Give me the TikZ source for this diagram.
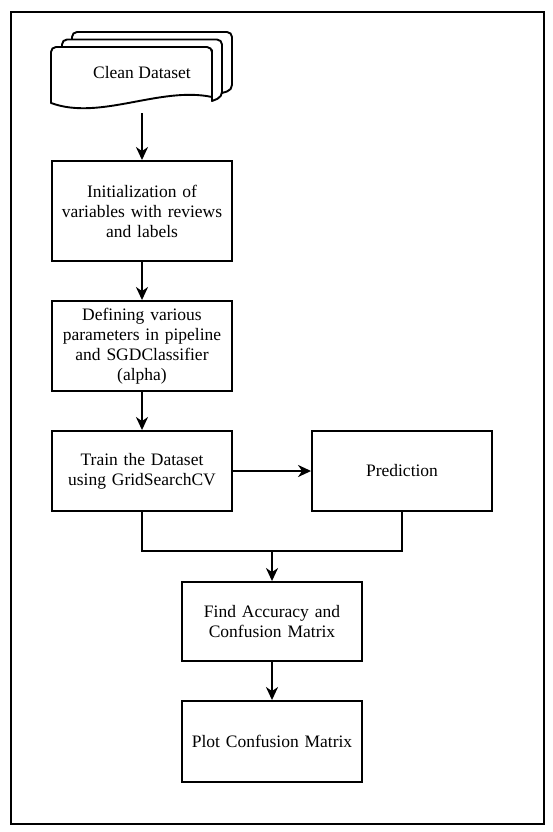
\documentclass[tikz,border=0pt]{standalone}
\usepackage{fontspec}
\setmainfont{Liberation Serif}
\newfontfamily\serfont{Liberation Serif}
\usetikzlibrary{arrows.meta}
\begin{document}
\begin{tikzpicture}[x=1pt,y=-1pt,
  lw/.style={line width=1.9pt},
  box/.style={lw,draw=black,fill=white,minimum width=180pt,inner sep=0pt,
    text width=172pt,align=center,font=\serfont\fontsize{17.5}{20}\selectfont},
  arr/.style={lw,-{Stealth[length=13pt,width=12pt,inset=4pt]}},
  conn/.style={lw},
  docpart/.style={lw,draw=black,fill=white,line join=round}
]
\useasboundingbox (0,0) rectangle (552,832);
% outer frame
\draw[lw] (11,12) rectangle (544,824);

% multi-document shape
\path[docpart,rounded corners=5pt] (72,45) -- (72,32) -- (232,32) -- (232,90) [sharp corners]-- (222,93) -- (222,45) -- cycle;
\path[docpart,rounded corners=5pt] (62,50) -- (62,39.5) -- (222,39.5) -- (222,97) [sharp corners]-- (212,101) -- (212,50) -- cycle;
\path[docpart] (51,103) [rounded corners=5pt]-- (51,47) -- (212,47) [sharp corners]-- (212,97)
   .. controls (160,86) and (100,121) .. (51,103) -- cycle;
\node[minimum width=182pt,minimum height=81pt,inner sep=0pt,
  font=\serfont\fontsize{17.5}{20}\selectfont] (doc) at (142,72.5) {Clean Dataset};

% process boxes
\node[box,minimum height=100pt] (b1) at (142,211) {Initialization of\\variables with reviews\\and labels};
\node[box,minimum height=90pt] (b2) at (142,346) {Defining various\\parameters in pipeline\\and SGDClassifier\\(alpha)};
\node[box,minimum height=80pt] (b3) at (142,471) {Train the Dataset\\using GridSearchCV};
\node[box,minimum height=80pt] (pred) at (402,471) {Prediction};
\node[box,minimum height=79pt] (b4) at (272,621.5) {Find Accuracy and\\Confusion Matrix};
\node[box,minimum height=81pt] (b5) at (272,741.5) {Plot Confusion Matrix};

% connectors
\draw[arr] (doc.south) -- (b1.north);
\draw[arr] (b1.south) -- (b2.north);
\draw[arr] (b2.south) -- (b3.north);
\draw[arr] (b3.east) -- (pred.west);
\coordinate (m) at (272,551);
\draw[conn] (b3.south) |- (m) -| (pred.south);
\draw[arr] (m) -- (b4.north);
\draw[arr] (b4.south) -- (b5.north);
\end{tikzpicture}
\end{document}
